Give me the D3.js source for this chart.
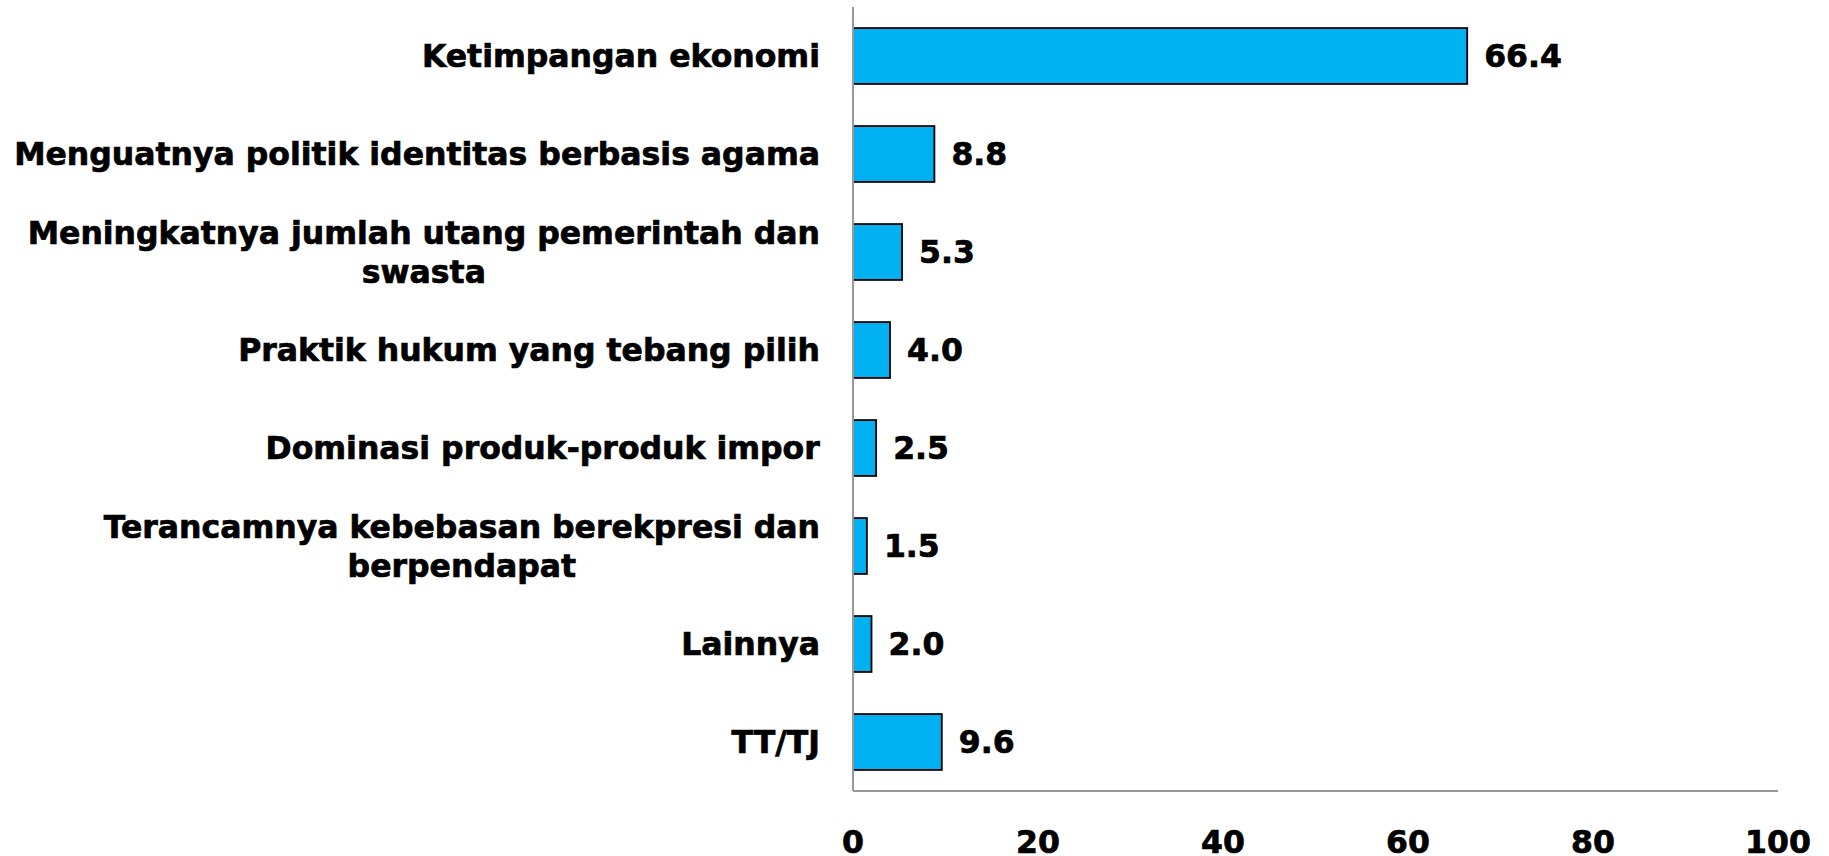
<!DOCTYPE html>
<html><head><meta charset="utf-8">
<script src="https://cdn.jsdelivr.net/npm/d3@7"></script>
<style>body{margin:0;background:#fff}svg{display:block}text{font-family:"DejaVu Sans",Verdana,sans-serif;font-weight:bold;fill:#000;stroke:#000;stroke-width:0.7px}</style>
</head><body>
<svg id="c" width="1829" height="856"></svg>
<script>
const categories = [
  ["Ketimpangan ekonomi"],
  ["Menguatnya politik identitas berbasis agama"],
  ["Meningkatnya jumlah utang pemerintah dan", "swasta"],
  ["Praktik hukum yang tebang pilih"],
  ["Dominasi produk-produk impor"],
  ["Terancamnya kebebasan berekpresi dan", "berpendapat"],
  ["Lainnya"],
  ["TT/TJ"]
];
const values = [66.4, 8.8, 5.3, 4.0, 2.5, 1.5, 2.0, 9.6];
const xTicks = [0, 20, 40, 60, 80, 100];

const svg = d3.select("#c");
const x = d3.scaleLinear().domain([0, 100]).range([853, 1778]);
const y = d3.scaleBand().domain(d3.range(values.length)).range([7, 791]).paddingInner(0.43).paddingOuter(0.215);
const fs = 31.5;

svg.selectAll("rect.bar").data(values).join("rect")
  .attr("x", x(0)).attr("y", (d,i)=>y(i))
  .attr("width", d=>x(d)-x(0)).attr("height", y.bandwidth())
  .attr("fill", "#00B0F0").attr("stroke", "#000").attr("stroke-width", 1.8);

// axes
svg.append("line").attr("x1", x(0)).attr("x2", x(0)).attr("y1", 7).attr("y2", 791).attr("stroke", "#999").attr("stroke-width", 2);
svg.append("line").attr("x1", x(0)).attr("x2", x(100)).attr("y1", 791).attr("y2", 791).attr("stroke", "#999").attr("stroke-width", 2);

// value labels
svg.selectAll("text.val").data(values).join("text")
  .attr("x", d=>x(d)+17).attr("y", (d,i)=>y(i)+y.bandwidth()/2)
  .attr("dy", "0.36em").attr("font-size", fs)
  .text(d=>d.toFixed(1));

// category labels: block right-aligned at 820, lines centered within block
categories.forEach((lines, i) => {
  const g = svg.append("g");
  const cy = y(i) + y.bandwidth()/2;
  const lh = 39;
  const t = g.append("text").attr("font-size", fs).attr("text-anchor", "middle");
  lines.forEach((ln, j) => {
    t.append("tspan").attr("x", 0).attr("y", cy + (j - (lines.length-1)/2)*lh).attr("dy", "0.36em").text(ln);
  });
  const w = t.node().getBBox().width;
  t.attr("transform", `translate(${820 - w/2},0)`);
});

// tick labels
svg.selectAll("text.tick").data(xTicks).join("text")
  .attr("x", d=>x(d)).attr("y", 842).attr("dy", "0.36em")
  .attr("text-anchor", "middle").attr("font-size", fs)
  .text(d=>d);
</script>
</body></html>
